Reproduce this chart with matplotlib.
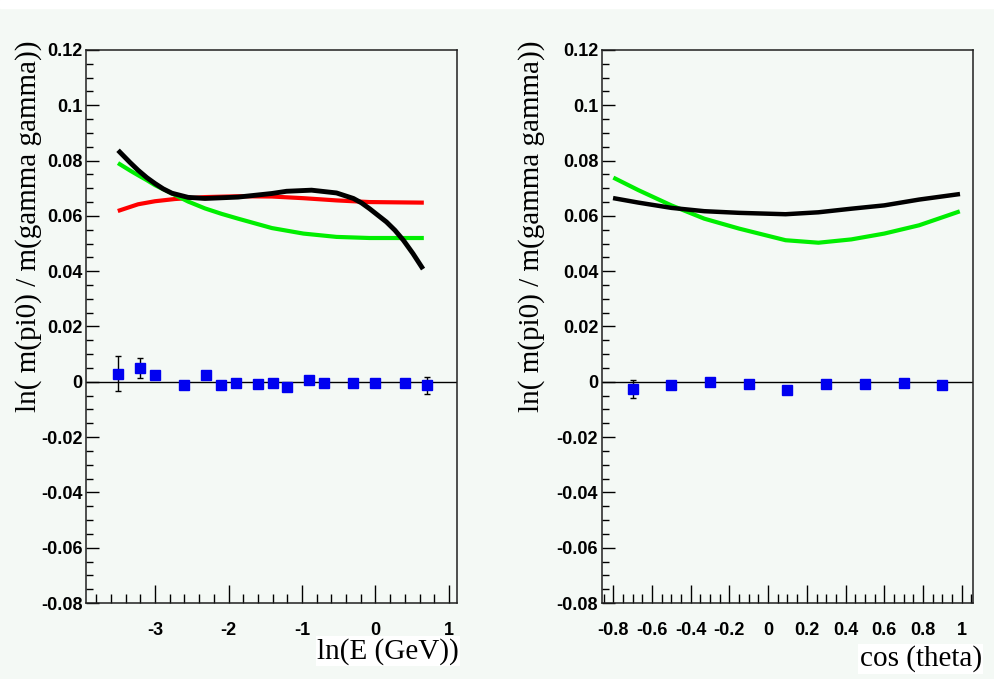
import numpy as np
import matplotlib
matplotlib.use("Agg")
import matplotlib.pyplot as plt
from matplotlib.ticker import MultipleLocator
from matplotlib.patches import Rectangle

# -----------------------------
# Data
# -----------------------------
# left panel: vs ln(E)
lnE_pts = [-3.5, -3.2, -3.0, -2.6, -2.3, -2.1, -1.9, -1.6, -1.4, -1.2, -0.9, -0.7, -0.3, 0.0, 0.4, 0.7]
lnE_val = [0.0030, 0.0050, 0.0024, -0.0010, 0.0024, -0.0010, -0.0004, -0.0008, -0.0003, -0.0019,
           0.0005, -0.0003, -0.0003, -0.0003, -0.0003, -0.0013]
lnE_err = [0.0063, 0.0036, 0.0005, 0.0005, 0.0005, 0.0005, 0.0005, 0.0005, 0.0005, 0.0005,
           0.0005, 0.0005, 0.0005, 0.0005, 0.0008, 0.0030]

black_lnE_x = [-3.48, -3.34, -3.23, -3.11, -3.0, -2.89, -2.77, -2.55, -2.32, -1.87, -1.41, -1.21, -0.87,
               -0.53, -0.30, -0.19, -0.08, 0.035, 0.15, 0.265, 0.38, 0.51, 0.63]
black_lnE_y = [0.0831, 0.0793, 0.0765, 0.0738, 0.0717, 0.0698, 0.0682, 0.0667, 0.0663, 0.0668, 0.0681,
               0.0689, 0.0693, 0.0683, 0.0663, 0.0647, 0.0626, 0.0602, 0.0578, 0.0548, 0.0512, 0.0464, 0.0415]

red_lnE_x = [-3.48, -3.23, -3.0, -2.73, -2.32, -1.87, -1.41, -0.98, -0.53, -0.08, 0.63]
red_lnE_y = [0.0620, 0.0642, 0.0653, 0.0661, 0.0668, 0.0671, 0.0670, 0.0664, 0.0656, 0.0650, 0.0648]

green_lnE_x = [-3.48, -3.34, -3.23, -3.11, -3.0, -2.77, -2.55, -2.32, -2.09, -1.87, -1.41, -0.98, -0.53,
               -0.08, 0.63]
green_lnE_y = [0.0787, 0.0764, 0.0747, 0.0729, 0.0711, 0.0681, 0.0652, 0.0627, 0.0607, 0.0590, 0.0556,
               0.0536, 0.0524, 0.0520, 0.0520]

# right panel: vs cos(theta)
cos_pts = [-0.7, -0.5, -0.3, -0.1, 0.1, 0.3, 0.5, 0.7, 0.9]
cos_val = [-0.0025, -0.0010, -0.0001, -0.0007, -0.0028, -0.0009, -0.0009, -0.0003, -0.0010]
cos_err = [0.0033, 0.0005, 0.0005, 0.0005, 0.0005, 0.0005, 0.0005, 0.0005, 0.0005]

black_cos_x = [-0.79, -0.67, -0.50, -0.33, -0.15, 0.09, 0.26, 0.43, 0.60, 0.78, 0.98]
black_cos_y = [0.0663, 0.0648, 0.0629, 0.0617, 0.0611, 0.0606, 0.0613, 0.0626, 0.0638, 0.0659, 0.0678]

green_cos_x = [-0.79, -0.67, -0.50, -0.33, -0.15, 0.09, 0.26, 0.43, 0.60, 0.78, 0.98]
green_cos_y = [0.0735, 0.0693, 0.0638, 0.0590, 0.0554, 0.0512, 0.0503, 0.0515, 0.0536, 0.0566, 0.0614]

y_ticks = [0.12, 0.1, 0.08, 0.06, 0.04, 0.02, 0, -0.02, -0.04, -0.06, -0.08]
y_ticklabels = ["0.12", "0.1", "0.08", "0.06", "0.04", "0.02", "0", "-0.02", "-0.04", "-0.06", "-0.08"]
lnE_ticks = [-3, -2, -1, 0, 1]
lnE_ticklabels = ["-3", "-2", "-1", "0", "1"]
cos_ticks = [-0.8, -0.6, -0.4, -0.2, 0, 0.2, 0.4, 0.6, 0.8, 1]
cos_ticklabels = ["-0.8", "-0.6", "-0.4", "-0.2", "0", "0.2", "0.4", "0.6", "0.8", "1"]

ylabel = "ln( m(pi0) / m(gamma gamma))"

# -----------------------------
# Figure
# -----------------------------
bg = "#f4f9f5"
fig = plt.figure(figsize=(9.95, 6.79), dpi=100, facecolor=bg)

# white strip on top of the picture
fig.patches.append(Rectangle((0, 0.988), 1, 0.012, transform=fig.transFigure,
                             color="white", zorder=0))

ax1 = fig.add_axes([0.0864, 0.1119, 0.3729, 0.8145])
ax2 = fig.add_axes([0.6047, 0.1119, 0.3729, 0.8145])

tick_font = dict(family="Liberation Sans", weight="bold", size=13)


def style_axis(ax, xlim, xticks, xticklabels, xminor):
    ax.set_facecolor(bg)
    ax.set_xlim(*xlim)
    ax.set_ylim(-0.08, 0.12)
    ax.set_yticks(y_ticks)
    ax.set_yticklabels(y_ticklabels, fontdict=tick_font)
    ax.set_xticks(xticks)
    ax.set_xticklabels(xticklabels, fontdict=tick_font)
    ax.xaxis.set_minor_locator(MultipleLocator(xminor))
    ax.yaxis.set_minor_locator(MultipleLocator(0.005))
    ax.tick_params(axis="y", which="major", direction="in", length=9.5, width=1.0, pad=2.5)
    ax.tick_params(axis="y", which="minor", direction="in", length=5, width=1.0)
    ax.tick_params(axis="x", which="major", direction="in", length=12.7, width=1.0, pad=13.5)
    ax.tick_params(axis="x", which="minor", direction="in", length=6.3, width=1.0)
    for s in ax.spines.values():
        s.set_linewidth(1.1)
        s.set_color("#202020")
    ax.axhline(0, color="black", lw=1.0, zorder=2)


style_axis(ax1, (-3.94, 1.11), lnE_ticks, lnE_ticklabels, 0.2)
style_axis(ax2, (-0.86, 1.057), cos_ticks, cos_ticklabels, 0.05)

# curves
ax1.plot(red_lnE_x, red_lnE_y, color="#ff0000", lw=3.0, zorder=3, solid_joinstyle="round")
ax1.plot(green_lnE_x, green_lnE_y, color="#00ee00", lw=3.0, zorder=3, solid_joinstyle="round")
ax1.plot(black_lnE_x, black_lnE_y, color="black", lw=3.5, zorder=4, solid_joinstyle="round")

ax2.plot(black_cos_x, black_cos_y, color="black", lw=3.2, zorder=4, solid_joinstyle="round")
ax2.plot(green_cos_x, green_cos_y, color="#00ee00", lw=3.0, zorder=3, solid_joinstyle="round")

# points
ax1.errorbar(lnE_pts, lnE_val, yerr=lnE_err, fmt="s", color="#0000f0", ms=7.5,
             ecolor="black", elinewidth=1.0, capsize=2.5, capthick=1.0, zorder=5)
ax2.errorbar(cos_pts, cos_val, yerr=cos_err, fmt="s", color="#0000f0", ms=7.5,
             ecolor="black", elinewidth=1.0, capsize=2.5, capthick=1.0, zorder=5)

# labels
label_font = dict(family="Liberation Serif", size=21)
for ax, xl in [(ax1, "ln(E (GeV))"), (ax2, "cos (theta)")]:
    ax.set_ylabel(ylabel, fontdict=label_font, rotation=90, va="center", ha="center")
    ax.set_xlabel(xl, fontdict=label_font, ha="right", va="center",
                  bbox=dict(facecolor="white", edgecolor="none", pad=1))

ax1.yaxis.set_label_coords(-0.156, 0.682)
ax2.yaxis.set_label_coords(-0.19, 0.682)
ax1.xaxis.set_label_coords(1.005, -0.087)
ax2.xaxis.set_label_coords(1.025, -0.101)

fig.savefig("out.png", dpi=100, facecolor=bg)
